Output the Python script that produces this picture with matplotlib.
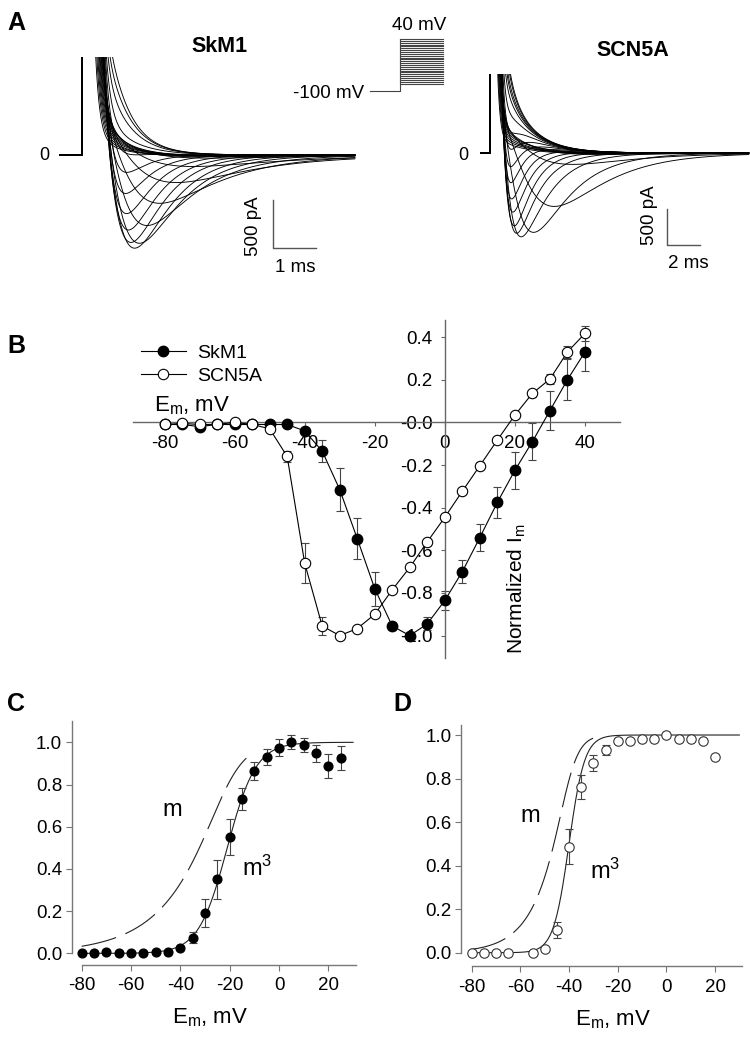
import numpy as np
import matplotlib
matplotlib.use('Agg')
import matplotlib.pyplot as plt
from matplotlib.ticker import FormatStrFormatter

plt.rcParams['font.family'] = ['Liberation Sans', 'DejaVu Sans']
plt.rcParams['mathtext.fontset'] = 'custom'
plt.rcParams['mathtext.rm'] = 'Liberation Sans'
plt.rcParams['axes.unicode_minus'] = False

# ---------------- data ----------------
# step protocol (mV)
hold_mv = -100
step_volt = list(range(-80, 45, 5))

# B: normalized peak current-voltage relation
iv_skm1 = [-0.01, -0.01, -0.02, -0.01, -0.01, -0.01, -0.01, -0.01, -0.04, -0.135,
           -0.315, -0.545, -0.78, -0.955, -1.0, -0.945, -0.835, -0.70, -0.54, -0.375,
           -0.225, -0.09, 0.055, 0.20, 0.33]
iv_skm1_err = [0, 0, 0, 0, 0, 0, 0, 0.01, 0.015, 0.05, 0.10, 0.096, 0.08, 0.02, 0.015,
               0.03, 0.045, 0.055, 0.062, 0.074, 0.086, 0.086, 0.09, 0.096, 0.09]
iv_scn5a = [-0.01, -0.005, -0.01, -0.01, 0.0, -0.01, -0.03, -0.16, -0.66, -0.955,
            -1.0, -0.967, -0.90, -0.785, -0.68, -0.56, -0.445, -0.323, -0.203, -0.083,
            0.034, 0.136, 0.203, 0.33, 0.417]
iv_scn5a_err = [0, 0, 0, 0, 0, 0, 0.01, 0.025, 0.095, 0.04, 0.01, 0.01, 0.01, 0.01, 0.01,
                0.01, 0.015, 0.015, 0.015, 0.01, 0.015, 0.015, 0.025, 0.03, 0.035]

# A: peak current of the recorded cells (pA) and gating time constants per step (ms)
peak_skm1_pa = 952
peak_scn5a_pa = 1162
tm_skm1 = [1.2, 1.2, 1.2, 1.2, 1.2, 1.2, 1.2, 1.2, 1.15, 1.05, 0.9, 0.72, 0.6, 0.52,
           0.46, 0.41, 0.37, 0.34, 0.31, 0.29, 0.27, 0.25, 0.23, 0.22, 0.2]
th_skm1 = [2.2, 2.2, 2.2, 2.2, 2.2, 2.2, 2.2, 2.2, 2.1, 2.0, 1.7, 1.35, 1.05, 0.88,
           0.78, 0.7, 0.64, 0.58, 0.53, 0.49, 0.46, 0.43, 0.41, 0.39, 0.37]
tm_scn5a = [2.2, 2.2, 2.2, 2.2, 2.2, 2.2, 2.2, 2.1, 1.9, 1.05, 0.62, 0.5, 0.45, 0.4,
            0.36, 0.33, 0.3, 0.28, 0.26, 0.24, 0.22, 0.21, 0.2, 0.19, 0.18]
th_scn5a = [4.0, 4.0, 4.0, 4.0, 4.0, 4.0, 4.0, 3.6, 2.8, 2.1, 1.6, 1.3, 1.1, 1.0,
            0.9, 0.8, 0.75, 0.7, 0.65, 0.6, 0.55, 0.52, 0.5, 0.48, 0.46]
# capacitive transient: fast pA/mV, fast tau, slow pA/mV, slow tau
cap_skm1 = (1000, 0.1, 15, 0.55)
cap_scn5a = (1000, 0.15, 13, 1.5)

# C / D: activation
act_volt_c = list(range(-80, 30, 5))
act_skm1 = [0.0, 0.0, 0.008, 0.0, 0.0, 0.0, 0.005, 0.008, 0.024, 0.074, 0.193, 0.352,
            0.551, 0.731, 0.864, 0.932, 0.975, 1.0, 0.986, 0.947, 0.888, 0.926]
act_skm1_err = [0, 0, 0, 0, 0, 0, 0, 0, 0.008, 0.025, 0.066, 0.092, 0.085, 0.053,
                0.043, 0.038, 0.04, 0.034, 0.034, 0.038, 0.056, 0.055]
act_volt_d = [-80, -75, -70, -65, -55, -50, -45, -40, -35, -30, -25, -20, -15, -10,
              -5, 0, 5, 10, 15, 20]
act_scn5a = [0.0, 0.0, 0.0, 0.0, 0.0, 0.015, 0.104, 0.487, 0.76, 0.873, 0.931, 0.974,
             0.974, 0.983, 0.983, 1.0, 0.983, 0.98, 0.974, 0.897]
act_scn5a_err = [0, 0, 0, 0, 0, 0, 0.037, 0.08, 0.055, 0.036, 0.025, 0.012, 0, 0, 0,
                 0, 0, 0, 0, 0]
# Boltzmann fit of m^3 (V1/2, slope) and end of the m curve
fit_c = (-21.0, 5.8)
fit_d = (-40.0, 3.2)
m_end_c = -11.5
m_end_d = -30.0

W, H = 750, 1046
fig = plt.figure(figsize=(W / 100, H / 100), dpi=100)


def px_axes(x0, y0, x1, y1):
    return fig.add_axes([x0 / W, 1 - y1 / H, (x1 - x0) / W, (y1 - y0) / H])


def px_text(x, y, s, **kw):
    return fig.text(x / W, 1 - y / H, s, **kw)


def draw_traces(ax, t, iv, peak, tm, th, delay, cap):
    k_fast, tau_f, k_slow, tau_s = cap
    after = np.clip(t, 0, None)
    rise = np.clip(t / 0.02, 0, 1)
    tn = np.clip(t - delay, 0, None)
    for v, a, m_tau, h_tau in zip(step_volt, iv, tm, th):
        dv = v - hold_mv
        i_cap = dv * rise * (k_fast * np.exp(-after / tau_f) + k_slow * np.exp(-after / tau_s))
        w = (1 - np.exp(-tn / m_tau)) ** 3 * np.exp(-tn / h_tau)
        ipk = np.argmax(w)
        amp = a * (peak + i_cap[ipk]) if a < 0 else a * peak
        i_na = amp * w / w[ipk]
        ax.plot(t, i_cap + i_na, color='black', lw=0.65)


# ---------------- A ----------------
axA1 = px_axes(55, 57, 360, 262)
axA1.set_xlim(-0.6236, 6.420)
axA1.set_ylim(-1107.7, 1014.5)
axA1.axis('off')
draw_traces(axA1, np.arange(-0.508, 6.305, 0.005), iv_skm1, peak_skm1_pa,
            tm_skm1, th_skm1, 0.3, cap_skm1)
axA1.plot([4.41, 4.41, 5.41], [-463, -963, -963], color='#555', lw=1, clip_on=False)

axA2 = px_axes(478, 74, 750, 262)
axA2.set_xlim(-0.719, 15.569)
axA2.set_ylim(-1526.6, 1106.4)
axA2.axis('off')
draw_traces(axA2, np.arange(-0.54, 15.5, 0.01), iv_scn5a, peak_scn5a_pa,
            tm_scn5a, th_scn5a, 0.4, cap_scn5a)
axA2.plot([10.6, 10.6, 12.6], [-788, -1288, -1288], color='#555', lw=1, clip_on=False)

# voltage protocol
axP = px_axes(370, 39, 443, 91)
axP.set_xlim(0, 73)
axP.set_ylim(hold_mv, 40)
axP.axis('off')
axP.plot([0, 30, 30], [hold_mv, hold_mv, 40], color='#444', lw=0.8, clip_on=False)
for v in step_volt:
    axP.plot([30, 73], [v, v], color='#444', lw=0.8, clip_on=False)

px_text(16, 23, 'A', fontsize=18, fontweight='bold', ha='center', va='center')
px_text(219, 46, 'SkM1', fontsize=15.5, fontweight='bold', ha='center', va='center')
px_text(633, 51, 'SCN5A', fontsize=15.5, fontweight='bold', ha='center', va='center')
px_text(44, 156, '0', fontsize=13, ha='center', va='center')
px_text(463, 156, '0', fontsize=13, ha='center', va='center')
px_text(253, 226, '500 pA', fontsize=13.5, ha='center', va='center', rotation=90)
px_text(295, 267, '1 ms', fontsize=13.5, ha='center', va='center')
px_text(650, 215, '500 pA', fontsize=13.5, ha='center', va='center', rotation=90)
px_text(688, 264, '2 ms', fontsize=13.5, ha='center', va='center')
px_text(364, 93, '-100 mV', fontsize=13.5, ha='right', va='center')
px_text(419, 25, '40 mV', fontsize=13.5, ha='center', va='center')

# ---------------- B ----------------
axB = px_axes(133, 320, 620, 658)
axB.set_xlim(-89, 50)
axB.set_ylim(-1.105, 0.48)
axB.patch.set_visible(False)
for s in ['top', 'right']:
    axB.spines[s].set_visible(False)
for s in ['left', 'bottom']:
    axB.spines[s].set_position(('data', 0))
    axB.spines[s].set_color('#666')
    axB.spines[s].set_linewidth(1)
axB.set_xticks(range(-80, 41, 20))
axB.set_yticks(np.round(np.arange(-1.0, 0.41, 0.2), 1))
axB.yaxis.set_major_formatter(FormatStrFormatter('%.1f'))
axB.tick_params(direction='out', length=3, width=0.8, color='#666', labelsize=13.5, pad=6)

axB.errorbar(step_volt, iv_skm1, yerr=iv_skm1_err, fmt='none', ecolor='#444',
             elinewidth=0.8, capsize=3, capthick=0.8, zorder=2)
axB.errorbar(step_volt, iv_scn5a, yerr=iv_scn5a_err, fmt='none', ecolor='#444',
             elinewidth=0.8, capsize=3, capthick=0.8, zorder=2)
axB.plot(step_volt, iv_skm1, '-o', color='black', lw=0.8, ms=7.5, mfc='black',
         mec='black', label='SkM1', zorder=3)
axB.plot(step_volt, iv_scn5a, '-o', color='black', lw=0.8, ms=7.5, mfc='white',
         mec='black', mew=0.8, label='SCN5A', zorder=3)
axB.legend(loc='upper left', bbox_to_anchor=(141 / W, 1 - 344 / H),
           bbox_transform=fig.transFigure, frameon=False, fontsize=14,
           handlelength=2.3, handletextpad=0.6, borderpad=0, borderaxespad=0,
           labelspacing=0.3)
axB.text(-83, 0.025, r'$\mathregular{E_m}$, mV', fontsize=16, ha='left', va='bottom')
axB.text(20.6, -0.78, r'Normalized $\mathregular{I_m}$', fontsize=15, rotation=90,
         ha='center', va='center')
px_text(16, 346, 'B', fontsize=18, fontweight='bold', ha='center', va='center')


# ---------------- C / D ----------------
def act_panel(ax, volt, vals, errs, fit, m_end, filled, ytop):
    ax.patch.set_visible(False)
    for s in ['top', 'right']:
        ax.spines[s].set_visible(False)
    for s in ['left', 'bottom']:
        ax.spines[s].set_color('#777')
        ax.spines[s].set_linewidth(1)
    ax.spines['left'].set_bounds(0, ytop)
    ax.spines['bottom'].set_bounds(-80, 31)
    ax.set_xticks(range(-80, 21, 20))
    ax.set_yticks(np.round(np.arange(0, 1.01, 0.2), 1))
    ax.yaxis.set_major_formatter(FormatStrFormatter('%.1f'))
    ax.tick_params(direction='out', length=4, width=0.8, color='#777', labelsize=13.5)
    ax.tick_params(axis='y', pad=3)
    ax.tick_params(axis='x', pad=5)
    vh, k = fit
    v = np.linspace(-80, 30, 400)
    m3 = 1 / (1 + np.exp(-(v - vh) / k))
    ax.plot(v, m3, color='#222', lw=0.8, zorder=2)
    vm = v[v <= m_end]
    ax.plot(vm, m3[v <= m_end] ** (1 / 3), color='#222', lw=0.8,
            linestyle=(0, (32, 9)), zorder=2)
    ax.errorbar(volt, vals, yerr=errs, fmt='none', ecolor='#444', elinewidth=0.8,
                capsize=3, capthick=0.8, zorder=3)
    if filled:
        ax.plot(volt, vals, 'o', ms=6.3, mfc='black', mec='black', zorder=4, clip_on=False)
    else:
        ax.plot(volt, vals, 'o', ms=6.8, mfc='white', mec='#333', mew=0.8, zorder=4,
                clip_on=False)


axC = px_axes(71.8, 721.2, 358, 965)
axC.set_xlim(-84, 32)
axC.set_ylim(-0.055, 1.1)
act_panel(axC, act_volt_c, act_skm1, act_skm1_err, fit_c, m_end_c, True, 1.1)

axD = px_axes(461, 725, 741.8, 966)
axD.set_xlim(-84.4, 31)
axD.set_ylim(-0.061, 1.046)
act_panel(axD, act_volt_d, act_scn5a, act_scn5a_err, fit_d, m_end_d, False, 1.046)

px_text(16, 704, 'C', fontsize=18, fontweight='bold', ha='center', va='center')
px_text(402, 704, 'D', fontsize=18, fontweight='bold', ha='center', va='center')
px_text(172, 810, 'm', fontsize=17, ha='center', va='center')
px_text(242, 876, r'$\mathregular{m^3}$', fontsize=17, ha='left', va='baseline')
px_text(530, 816, 'm', fontsize=17, ha='center', va='center')
px_text(590, 879, r'$\mathregular{m^3}$', fontsize=17, ha='left', va='baseline')
px_text(172, 1023, r'$\mathregular{E_m}$, mV', fontsize=16, ha='left', va='baseline')
px_text(575, 1025, r'$\mathregular{E_m}$, mV', fontsize=16, ha='left', va='baseline')

fig.savefig('out.png', dpi=100)
